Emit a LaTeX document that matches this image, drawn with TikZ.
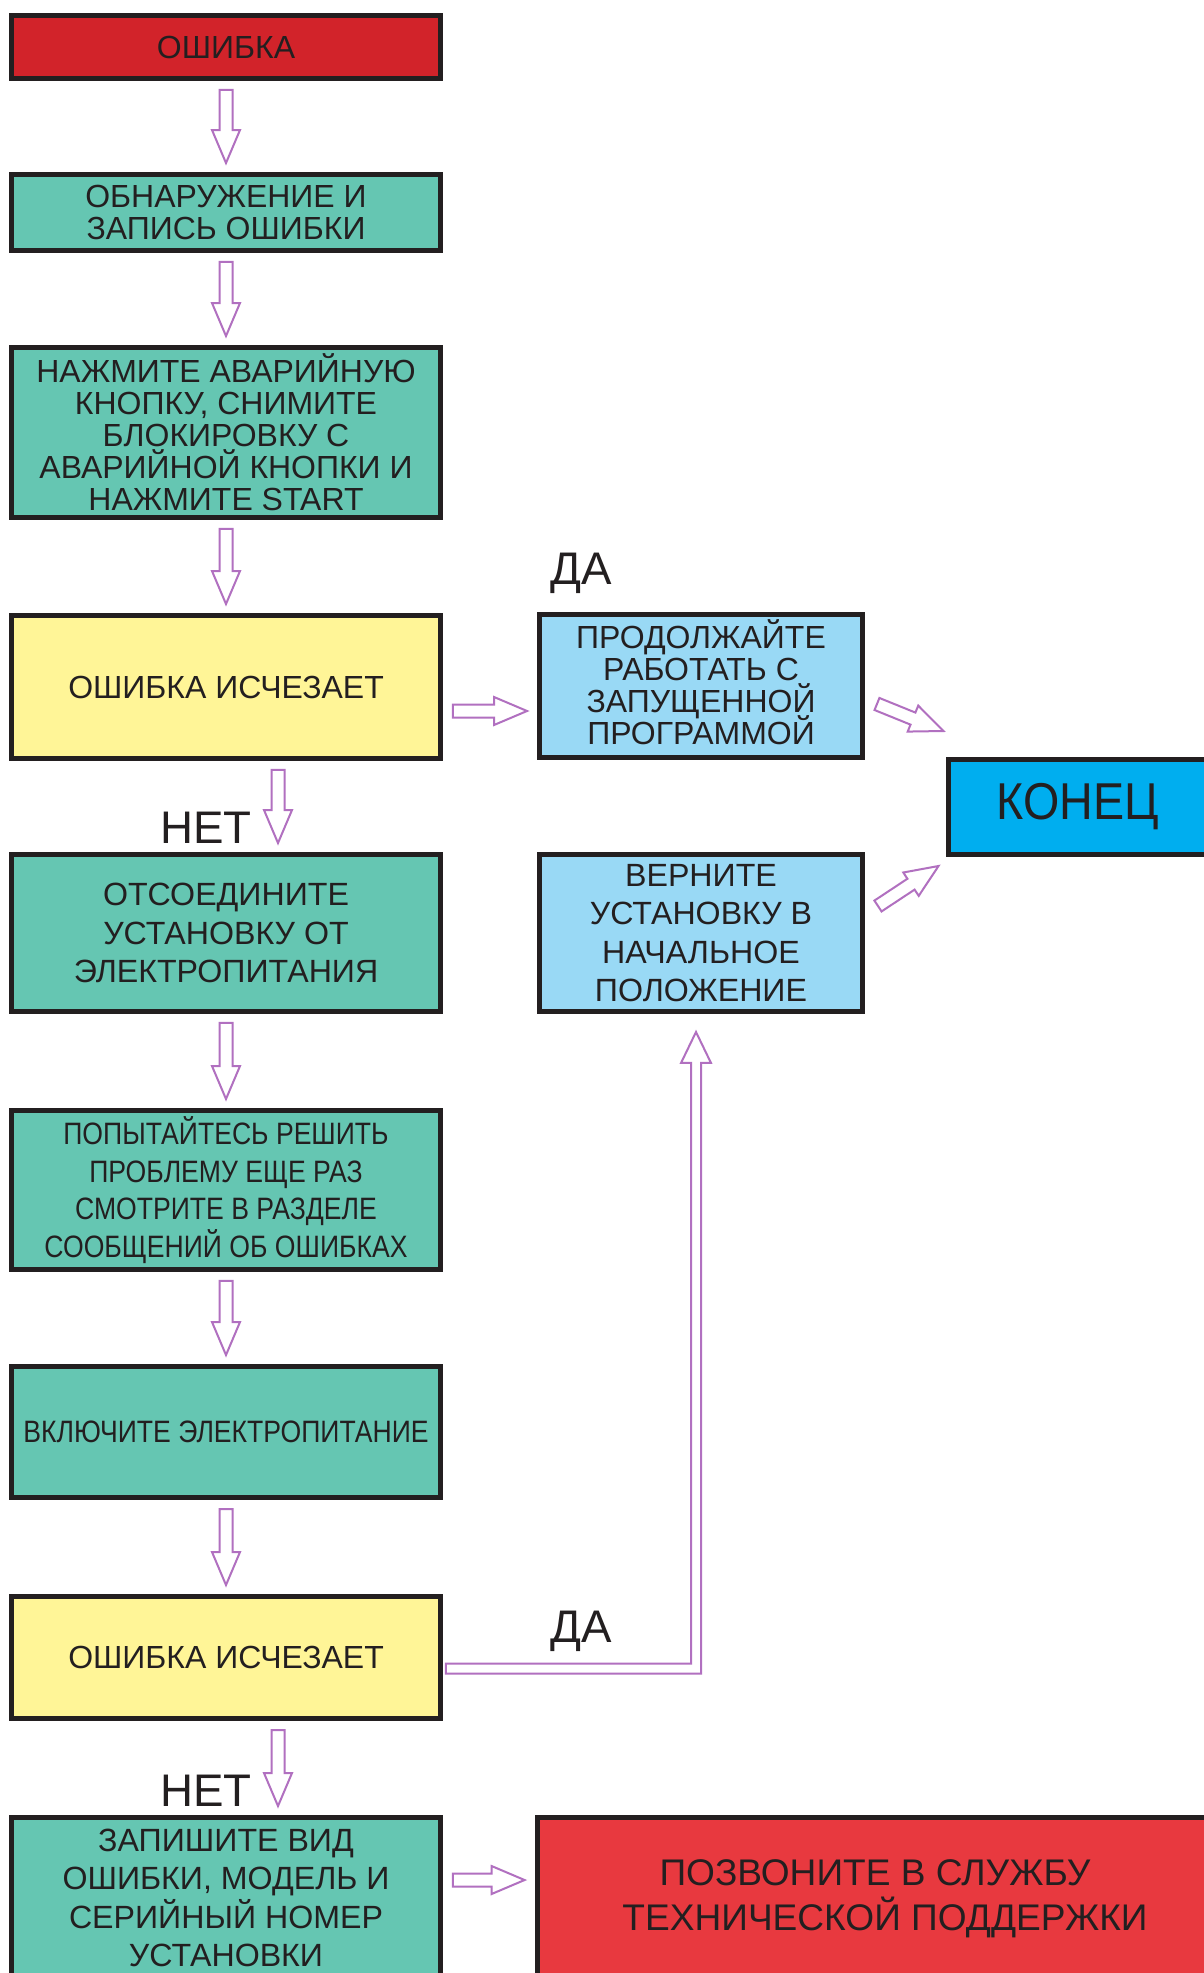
\documentclass[tikz,border=0pt]{standalone}
\usepackage{fontspec}
\setmainfont{Liberation Sans}
\newfontfamily\narrowfont[FakeStretch=0.86]{Liberation Sans}
\newfontfamily\endfont[FakeStretch=0.9]{Liberation Sans}
\usetikzlibrary{calc}
\setlength{\lineskiplimit}{-\maxdimen}

\definecolor{errred}{HTML}{D2232A}
\definecolor{boxteal}{HTML}{65C6B2}
\definecolor{boxyellow}{HTML}{FFF597}
\definecolor{boxblue}{HTML}{99D9F5}
\definecolor{endblue}{HTML}{00AEEF}
\definecolor{callred}{HTML}{E8393F}
\definecolor{framegray}{HTML}{231F20}
\definecolor{arrowpurple}{HTML}{B170C0}

\newcommand\hollow[3][0.18cm]{%
  \path ($(#2)!#1!(#3)$) coordinate (ha) ($(#3)!#1!(#2)$) coordinate (hb);
  \path ($(hb)!0.66cm!(ha)$) coordinate (hn);
  \draw[hollowline] ($(ha)!0.13cm!90:(hb)$) -- ($(hn)!0.13cm!-90:(ha)$)
    -- ($(hn)!0.28cm!-90:(ha)$) -- (hb) -- ($(hn)!0.28cm!90:(ha)$)
    -- ($(hn)!0.13cm!90:(ha)$) -- ($(ha)!0.13cm!-90:(hb)$) -- cycle;
}

\begin{document}
\begin{tikzpicture}[x=0.02cm,y=-0.02cm,
    box/.style={draw=framegray,line width=0.1cm,align=center,inner sep=0pt,
      text=framegray,minimum width=8.58cm,
      font=\fontsize{18.2}{18.2}\selectfont},
    widebox/.style={box,font=\fontsize{18.3}{21.8}\selectfont},
    thinbox/.style={box,font=\narrowfont\fontsize{17.6}{21.4}\selectfont},
    sidebox/.style={box,fill=boxblue,minimum width=6.46cm},
    answer/.style={anchor=base west,inner sep=0pt,text=framegray,
      font=\fontsize{26}{26}\selectfont},
    hollowline/.style={draw=arrowpurple,fill=white,line width=0.04cm,line join=miter}]
  \useasboundingbox (0,0) rectangle (1203,1973);
  \fill[white] (-20,-20) rectangle (1223,1993);

  \node[box,fill=errred,minimum height=1.26cm] (err) at (226,47) {ОШИБКА};
  \node[box,fill=boxteal,minimum height=1.52cm] (detect) at (226,212.5) {ОБНАРУЖЕНИЕ И\\ЗАПИСЬ ОШИБКИ};
  \node[box,fill=boxteal,minimum height=3.4cm] (press) at (226,432.5) {НАЖМИТЕ АВАРИЙНУЮ\\КНОПКУ, СНИМИТЕ\\БЛОКИРОВКУ С\\АВАРИЙНОЙ КНОПКИ И\\НАЖМИТЕ START};
  \node[box,fill=boxyellow,minimum height=2.86cm] (gone1) at (226,687) {ОШИБКА ИСЧЕЗАЕТ};
  \node[widebox,fill=boxteal,minimum height=3.14cm] (disc) at (226,933) {ОТСОЕДИНИТЕ\\УСТАНОВКУ ОТ\\ЭЛЕКТРОПИТАНИЯ};
  \node[thinbox,fill=boxteal,minimum height=3.18cm] (retry) at (226,1190) {ПОПЫТАЙТЕСЬ РЕШИТЬ\\ПРОБЛЕМУ ЕЩЕ РАЗ\\СМОТРИТЕ В РАЗДЕЛЕ\\СООБЩЕНИЙ ОБ ОШИБКАХ};
  \node[thinbox,fill=boxteal,minimum height=2.62cm] (power) at (226,1432) {ВКЛЮЧИТЕ ЭЛЕКТРОПИТАНИЕ};
  \node[box,fill=boxyellow,minimum height=2.44cm] (gone2) at (226,1657.5) {ОШИБКА ИСЧЕЗАЕТ};
  \node[widebox,fill=boxteal,minimum height=3.22cm] (record) at (226,1898) {ЗАПИШИТЕ ВИД\\ОШИБКИ, МОДЕЛЬ И\\СЕРИЙНЫЙ НОМЕР\\УСТАНОВКИ};

  \node[sidebox,minimum height=2.86cm,text depth=0.16cm] (cont) at (701,686) {ПРОДОЛЖАЙТЕ\\РАБОТАТЬ С\\ЗАПУЩЕННОЙ\\ПРОГРАММОЙ};
  \node[sidebox,minimum height=3.14cm,font=\fontsize{18.3}{21.8}\selectfont] (back) at (701,933) {ВЕРНИТЕ\\УСТАНОВКУ В\\НАЧАЛЬНОЕ\\ПОЛОЖЕНИЕ};
  \node[box,fill=endblue,minimum width=5.6cm,minimum height=1.9cm,
    font=\endfont\fontsize{29.5}{30}\selectfont] (endn) at (1088,807) {КОНЕЦ\hspace*{0.4cm}};
  \node[box,fill=callred,minimum width=14.2cm,minimum height=3.26cm,
    font=\fontsize{21.1}{25.5}\selectfont] (call) at (892,1899) {ПОЗВОНИТЕ В СЛУЖБУ\hspace*{0.68cm}\\ТЕХНИЧЕСКОЙ ПОДДЕРЖКИ\hspace*{0.28cm}};

  \node[answer] (yes1) at (550,584) {ДА};
  \node[answer] (no1) at (160,843) {НЕТ};
  \node[answer] (yes2) at (550,1642) {ДА};
  \node[answer] (no2) at (160,1806) {НЕТ};

  \coordinate (n1a) at ($(gone1.south)+(52,0)$);
  \coordinate (n1b) at ($(disc.north)+(52,0)$);
  \coordinate (n2a) at ($(gone2.south)+(52,0)$);
  \coordinate (n2b) at ($(record.north)+(52,0)$);
  \coordinate (y1a) at ($(gone1.east)+(0,24)$);
  \coordinate (y1b) at (y1a -| cont.west);
  \coordinate (r2a) at ($(record.east)+(0,-18)$);
  \coordinate (r2b) at (r2a -| call.west);
  \coordinate (d1a) at ($(cont.east)+(12,18)$);
  \coordinate (d1b) at ($(endn.north west)+(-2,-26)$);
  \coordinate (d2a) at ($(back.east)+(13,-27)$);
  \coordinate (d2b) at ($(endn.south west)+(-7,9)$);

  \hollow{err.south}{detect.north}
  \hollow{detect.south}{press.north}
  \hollow{press.south}{gone1.north}
  \hollow{n1a}{n1b}
  \hollow{disc.south}{retry.north}
  \hollow{retry.south}{power.north}
  \hollow{power.south}{gone2.north}
  \hollow{n2a}{n2b}
  \hollow[0.2cm]{y1a}{y1b}
  \hollow[0.2cm]{r2a}{r2b}
  \hollow[0cm]{d1a}{d1b}
  \hollow[0cm]{d2a}{d2b}

  \coordinate (rs) at ($(gone2.east)+(3,11)$);
  \coordinate (rt) at ($(back.south)+(-5,18)$);
  \draw[hollowline] ($(rs)+(0,-5)$) -| ($(rt)+(-5,31)$) -- ++(-10,0) -- (rt)
    -- ++(15,31) -- ++(-10,0) |- ($(rs)+(0,5)$) -- cycle;
\end{tikzpicture}
\end{document}
